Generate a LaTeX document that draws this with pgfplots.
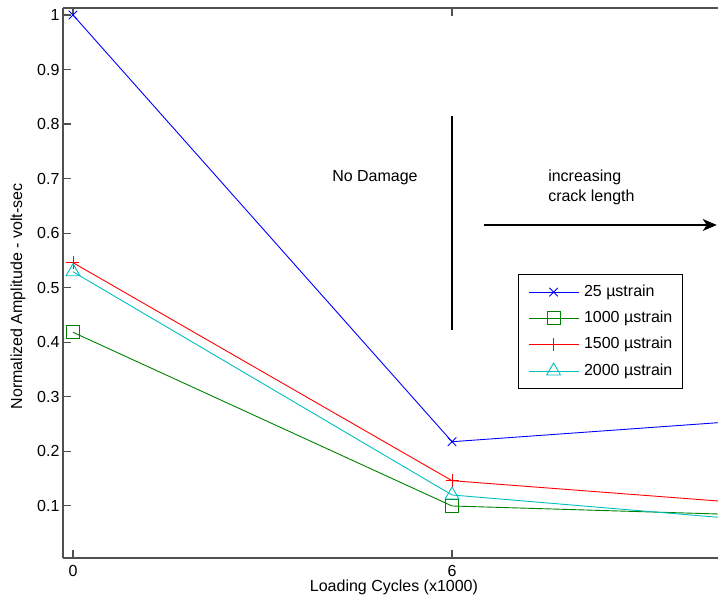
\documentclass[border=0pt]{standalone}
\usepackage{pgfplots}
\pgfplotsset{compat=1.18}
\usepackage{fontspec}
\setmainfont{Liberation Sans}
\usetikzlibrary{arrows.meta}

\definecolor{mblue}{RGB}{0,0,255}
\definecolor{mgreen}{RGB}{0,128,0}
\definecolor{mred}{RGB}{255,0,0}
\definecolor{mcyan}{RGB}{0,191,191}
\definecolor{axgray}{RGB}{80,80,80}
\newcommand{\f}{\fontsize{16bp}{20bp}\selectfont}

\begin{document}
\begin{tikzpicture}
\begin{axis}[
  scale only axis, width=655bp, height=550bp,
  xmin=-0.158, xmax=10.21, ymin=0.004, ymax=1.0128,
  axis y line*=left,
  xtick={0,6},
  ytick={0.1,0.2,0.3,0.4,0.5,0.6,0.7,0.8,0.9,1},
  tick align=inside, major tick length=8bp,
  axis line style={axgray, line width=1.3bp},
  every tick/.style={axgray, line width=1.1bp},
  /pgf/number format/assume math mode=true,
  tick label style={font=\f},
  xticklabel style={yshift=-3.5bp},
  xlabel={Loading Cycles (x1000)},
  ylabel={Normalized Amplitude - volt-sec},
  xlabel style={font=\f, at={(axis description cs:0.5053,-0.0535)}, anchor=center},
  ylabel style={font=\f, at={(axis description cs:-0.0687,0.4755)}, anchor=center},
  legend style={at={(axis cs:7.04,0.5247)}, anchor=north west, draw=black, line width=0.8bp, fill=white,
    font=\f, inner xsep=10bp, inner ysep=9.6bp, row sep=10.3bp, column sep=5bp,
    nodes={inner sep=0pt, text height=12bp, text depth=4bp, anchor=west}},
  legend cell align=left,
  legend image code/.code={\draw[mark repeat=2,mark phase=2,#1] plot coordinates {(0bp,0bp) (25bp,0bp) (50bp,0bp)};},
]
\addplot[draw=mblue, color=mblue, line width=0.9bp, mark=x, mark size=6bp, mark options={draw=mblue, line width=0.9bp}] coordinates {(0,1.0) (6,0.2173) (12,0.267)};
\addlegendentry{25 µstrain}
\addplot[draw=mgreen, color=mgreen, line width=0.9bp, mark=square, mark size=6.5bp, mark options={draw=mgreen, line width=0.9bp}] coordinates {(0,0.418) (6,0.0994) (12,0.0785)};
\addlegendentry{1000 µstrain}
\addplot[draw=mred, color=mred, line width=0.9bp, mark=+, mark size=6.5bp, mark options={draw=mred, line width=0.9bp}] coordinates {(0,0.5457) (6,0.1458) (12,0.0928)};
\addlegendentry{1500 µstrain}
\addplot[draw=mcyan, color=mcyan, line width=0.9bp, mark=triangle, mark size=8bp, mark options={draw=mcyan, line width=0.9bp}] coordinates {(0,0.529) (6,0.1196) (12,0.0613)};
\addlegendentry{2000 µstrain}

\draw[black, line width=1.2bp] (axis cs:6,0.422) -- (axis cs:6,0.814);
\node[font=\f, anchor=center, inner sep=0pt] at (axis cs:4.78,0.7015) {No Damage};
\node[font=\f, anchor=west, align=left, inner sep=0pt] at (axis cs:7.52,0.6835) {increasing\\crack length};
\draw[black, line width=1.2bp, -{Stealth[length=14bp,width=12bp,inset=4bp]}] (axis cs:6.506,0.6148) -- (axis cs:10.19,0.6148);
\end{axis}
\pgfresetboundingbox
\path (-63bp,-53bp) rectangle (655bp,558bp);
\end{tikzpicture}
\end{document}
